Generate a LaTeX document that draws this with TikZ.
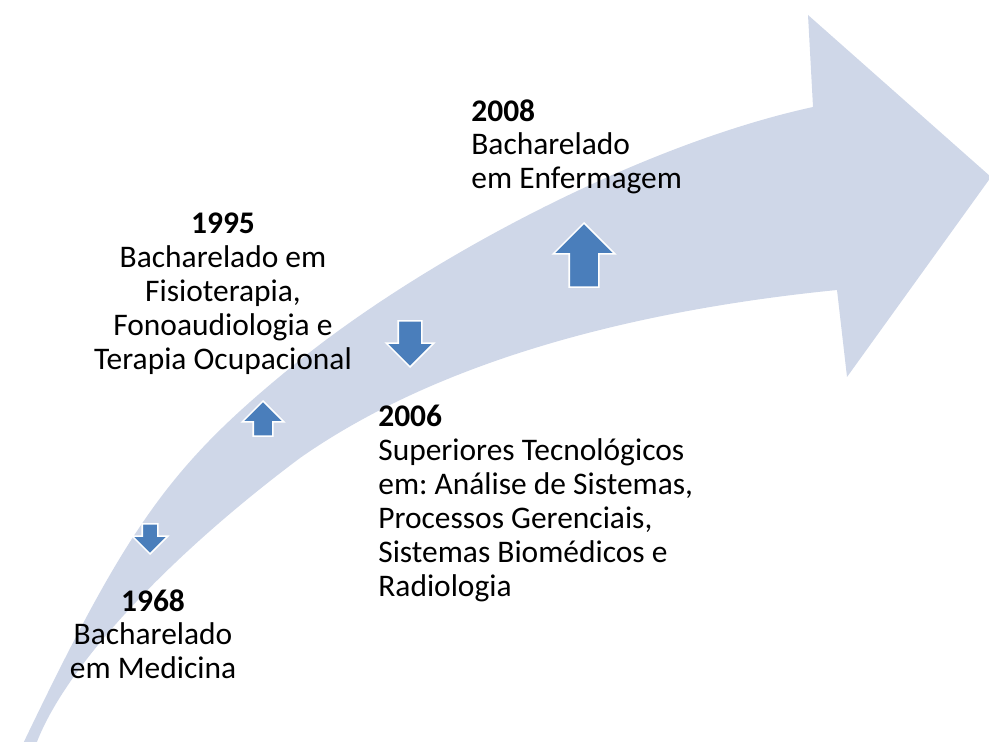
\documentclass[tikz,border=0pt]{standalone}
\usepackage{fontspec}
\setmainfont{Carlito}
\usetikzlibrary{shapes.arrows}

\definecolor{setaclara}{RGB}{207,215,232}
\definecolor{setaazul}{RGB}{74,126,187}

\begin{document}
\frenchspacing
\begin{tikzpicture}[x=0.02cm,y=-0.02cm,
  ano/.style={inner sep=0pt, font=\fontsize{17.9}{19.3}\selectfont},
  seta/.style={single arrow, fill=setaazul, draw=white, line width=0.9pt,
    inner xsep=0pt, single arrow tip angle=90, anchor=tip}]

  \useasboundingbox (0,0) rectangle (989,742);
  \clip (0,0) rectangle (989,742);

  % Draw the big curved arrow
  \fill[setaclara] (20,750) .. controls (129,522) and (171,464) .. (300,360)
    .. controls (430,256) and (643,144) .. (813,107)
    -- (808,15) -- (991,177) -- (847,377) -- (837,290)
    .. controls (657,308) and (450,353) .. (300,458)
    .. controls (165,559) and (60,672) .. (34,750) -- cycle;

  % Draw the small arrows
  \node (a1968) at (150,555) [seta, rotate=-90, minimum height=0.6cm,
    inner ysep=0.14cm, single arrow head extend=0.2cm] {};
  \node (a1995) at (263,400) [seta, rotate=90, minimum height=0.7cm,
    inner ysep=0.18cm, single arrow head extend=0.22cm] {};
  \node (a2006) at (410,368) [seta, rotate=-90, minimum height=0.92cm,
    inner ysep=0.22cm, single arrow head extend=0.24cm] {};
  \node (a2008) at (584,222) [seta, rotate=90, minimum height=1.28cm,
    inner ysep=0.28cm, single arrow head extend=0.32cm] {};

  % Add the labels
  \node (t1968) at (153,589) [ano, anchor=north, align=center]
    {\textbf{1968}\\Bacharelado\\em Medicina};
  \node (t1995) at (223,213) [ano, anchor=north, align=center]
    {\textbf{1995}\\Bacharelado em\\Fisioterapia,\\Fonoaudiologia e\\Terapia Ocupacional};
  \node (t2006) at (378,405) [ano, anchor=north west, align=left]
    {\textbf{2006}\\Superiores Tecnológicos\\em: Análise de Sistemas,\\Processos Gerenciais,\\Sistemas Biomédicos e\\Radiologia};
  \node (t2008) at (471,99) [ano, anchor=north west, align=left]
    {\textbf{2008}\\Bacharelado\\em Enfermagem};

\end{tikzpicture}
\end{document}
